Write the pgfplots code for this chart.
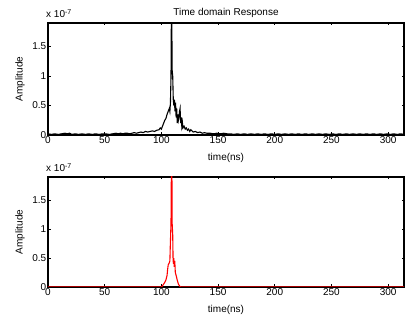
\documentclass[border=0pt]{standalone}
\usepackage{fontspec}
\setmainfont{Liberation Sans}
\usepackage{pgfplots}
\pgfplotsset{compat=1.18}
\pgfplotsset{
  mystyle/.style={
    anchor=south west, scale only axis, width=356pt,
    xmin=0, xmax=314, ymin=0, ymax=1.9,
    xtick={0,50,100,150,200,250,300},
    ytick={0,0.5,1,1.5}, yticklabels={0,0.5,1,1.5},
    tick align=inside, major tick length=2.5pt,
    every tick/.style={black, line width=0.8pt},
    axis line style={line width=1.3pt},
    tick label style={font=\fontsize{10}{12}\selectfont},
    xticklabel style={inner sep=1pt},
    yticklabel style={inner sep=1.5pt},
    label style={font=\fontsize{10}{12}\selectfont},
    /pgf/number format/assume math mode=true,
    xlabel={time(ns)}, ylabel={Amplitude},
    xlabel style={at={(axis description cs:0.5,0)}, anchor=center, yshift=-23pt},
    ylabel style={at={(axis description cs:0,0.5)}, anchor=center, yshift=28pt},
    clip=true,
  }
}
\begin{document}
\begin{tikzpicture}
\useasboundingbox (0pt,0pt) rectangle (405pt,320pt);
\begin{axis}[mystyle, at={(48pt,185pt)}, height=112pt,
  title={Time domain Response}, title style={font=\fontsize{10}{12}\selectfont, yshift=-4pt}]
\addplot[black, line width=1.1pt] coordinates {
(0,0.02) (3,0.01) (6,0.02) (9,0.01) (12,0.02) (15,0.03) (17,0.02) (19,0.03) (21,0.01) (24,0.02)
(27,0.01) (30,0.02) (33,0.01) (36,0.02) (39,0.01) (42,0.02) (45,0.01) (48,0.02) (51,0.02) (54,0.01)
(57,0.02) (60,0.03) (62,0.02) (64,0.03) (66,0.02) (68,0.03) (70,0.03) (72,0.02) (74,0.03) (76,0.04)
(78,0.03) (80,0.04) (82,0.05) (84,0.04) (86,0.06) (88,0.05) (90,0.06) (92,0.07) (94,0.06) (96,0.08)
(98,0.09) (99,0.12) (100,0.1) (101,0.15) (102,0.2) (103,0.25) (104,0.28) (105,0.35) (106,0.4) (107,0.45)
(107.5,0.4) (108,0.55) (108.5,1.0) (108.8,1.95) (109.2,1.95) (109.5,1.1) (110,1.0) (110.5,0.6) (111,0.5) (111.5,0.6)
(112,0.4) (112.5,0.55) (113,0.3) (113.5,0.45) (114,0.2) (114.5,0.35) (115,0.25) (115.5,0.3) (116,0.4) (116.5,0.45)
(117,0.2) (117.5,0.3) (118,0.15) (118.5,0.22) (119,0.12) (120,0.15) (121,0.1) (122,0.12) (123,0.08) (124,0.1)
(125,0.06) (126,0.09) (128,0.05) (130,0.06) (132,0.04) (134,0.05) (136,0.03) (138,0.04) (140,0.03) (143,0.03)
(146,0.02) (149,0.03) (152,0.02) (155,0.03) (158,0.02) (161,0.02) (164,0.01) (167,0.02) (170,0.01) (173,0.02)
(176,0.01) (179,0.02) (182,0.01) (185,0.02) (188,0.01) (191,0.02) (194,0.01) (197,0.02) (200,0.01) (203,0.02)
(206,0.01) (209,0.02) (212,0.01) (215,0.02) (218,0.01) (221,0.02) (224,0.01) (227,0.02) (230,0.01) (233,0.02)
(236,0.01) (239,0.02) (242,0.01) (245,0.02) (248,0.01) (251,0.02) (254,0.01) (257,0.02) (260,0.01) (263,0.02)
(266,0.01) (269,0.02) (272,0.01) (275,0.02) (278,0.01) (281,0.02) (284,0.01) (287,0.02) (290,0.01) (293,0.02)
(296,0.01) (299,0.02) (302,0.01) (305,0.02) (308,0.01) (311,0.02) (314,0.01)
};
\end{axis}
\node[anchor=base west, font=\fontsize{10}{12}\selectfont, inner sep=0pt] at (46pt,302pt) {x 10\textsuperscript{-7}};
\begin{axis}[mystyle, at={(48pt,33pt)}, height=110pt]
\addplot[red, line width=1.1pt] coordinates {
(0,0) (100,0) (101,0.02) (102,0.05) (103,0.08) (104,0.12) (105,0.2) (105.5,0.3) (106,0.38) (107,0.42)
(107.5,0.45) (108,0.8) (108.5,1.1) (108.8,1.95) (109.3,1.95) (109.5,1.1) (110,0.9) (110.3,0.5) (110.6,0.4) (111,0.5)
(111.3,0.35) (111.8,0.45) (112.3,0.25) (113,0.2) (114,0.12) (115,0.05) (116,0.02) (117,0) (314,0)
};
\end{axis}
\node[anchor=base west, font=\fontsize{10}{12}\selectfont, inner sep=0pt] at (46pt,148pt) {x 10\textsuperscript{-7}};
\end{tikzpicture}
\end{document}
